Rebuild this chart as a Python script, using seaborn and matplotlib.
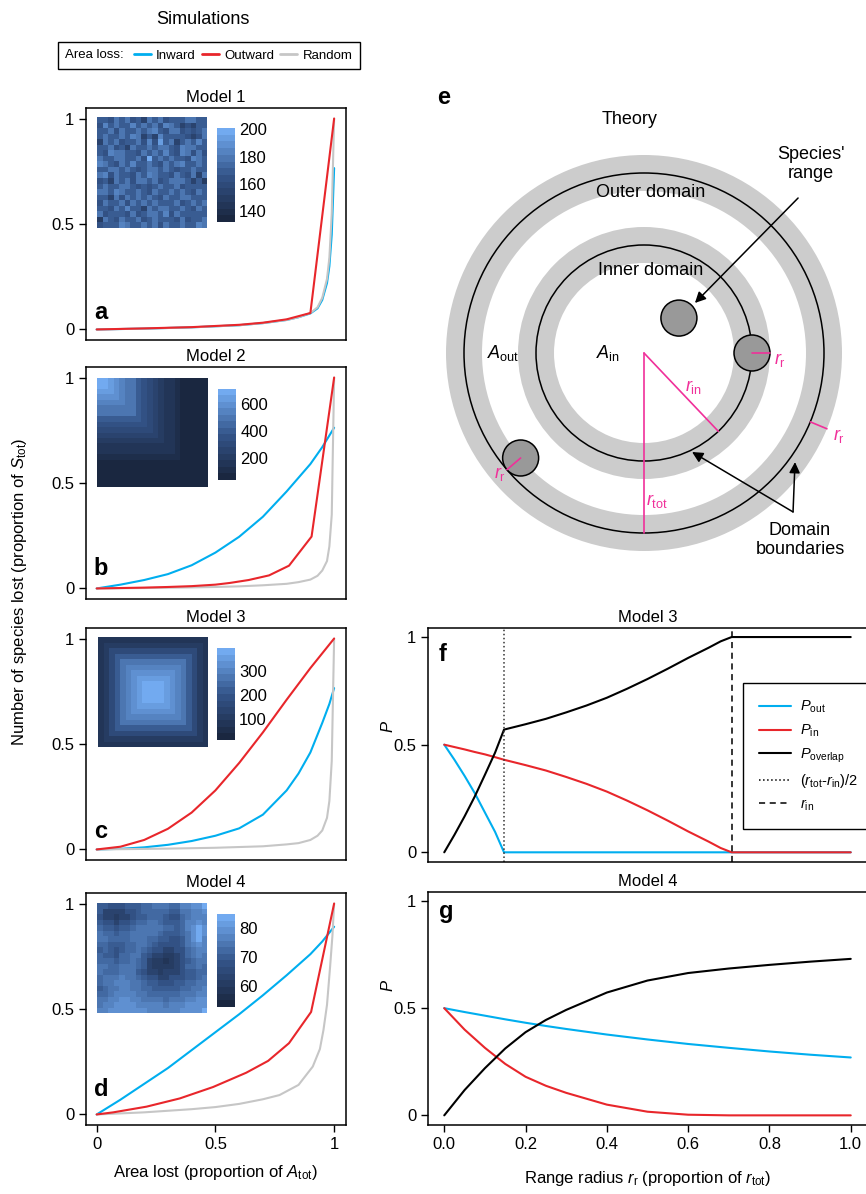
import numpy as np
import matplotlib
matplotlib.use("Agg")
import matplotlib.pyplot as plt
import seaborn as sns
from matplotlib.lines import Line2D
from matplotlib.patches import Circle, Wedge, FancyArrowPatch
from matplotlib.colors import LinearSegmentedColormap
from matplotlib.offsetbox import HPacker

# ---------------- data ----------------
loss_labels = ["Inward", "Outward", "Random"]

# Panel a (Model 1)
a_x = [0, 0.2, 0.4, 0.6, 0.7, 0.8, 0.85, 0.9, 0.93, 0.95, 0.97, 0.98, 0.99, 1.0]
a_gray = [0, 0.004, 0.01, 0.02, 0.03, 0.045, 0.058, 0.078, 0.105, 0.15, 0.24, 0.34, 0.55, 1.0]
a_blue = [0, 0.004, 0.01, 0.02, 0.03, 0.045, 0.058, 0.076, 0.10, 0.14, 0.22, 0.30, 0.45, 0.765]
a_red_x = [0, 0.2, 0.4, 0.6, 0.7, 0.8, 0.9, 1.0]
a_red = [0, 0.005, 0.011, 0.022, 0.032, 0.048, 0.078, 1.0]

# Panel b (Model 2)
b_x = [0, 0.1, 0.2, 0.3, 0.4, 0.5, 0.6, 0.7, 0.8, 0.9, 0.95, 1.0]
b_blue = [0, 0.018, 0.04, 0.068, 0.11, 0.17, 0.245, 0.34, 0.46, 0.59, 0.67, 0.762]
b_gray_x = [0, 0.2, 0.4, 0.5, 0.6, 0.7, 0.8, 0.85, 0.9, 0.93, 0.95, 0.97, 0.98, 0.99, 1.0]
b_gray = [0, 0.002, 0.005, 0.007, 0.01, 0.015, 0.022, 0.03, 0.042, 0.06, 0.085, 0.13, 0.2, 0.35, 1.0]
b_red_x = [0, 0.1, 0.2, 0.3, 0.4, 0.5, 0.56, 0.64, 0.726, 0.81, 0.905, 1.0]
b_red = [0, 0.002, 0.004, 0.007, 0.011, 0.018, 0.026, 0.04, 0.062, 0.108, 0.246, 1.0]

# Panel c (Model 3)
c_red_x = [0, 0.1, 0.2, 0.3, 0.4, 0.5, 0.6, 0.7, 0.8, 0.9, 1.0]
c_red = [0, 0.013, 0.045, 0.098, 0.175, 0.28, 0.41, 0.555, 0.71, 0.86, 1.0]
c_blue_x = [0, 0.1, 0.2, 0.3, 0.4, 0.5, 0.6, 0.7, 0.8, 0.85, 0.9, 0.95, 0.98, 1.0]
c_blue = [0, 0.003, 0.01, 0.022, 0.04, 0.065, 0.1, 0.165, 0.28, 0.36, 0.46, 0.6, 0.69, 0.765]
c_gray_x = [0, 0.3, 0.5, 0.7, 0.8, 0.85, 0.9, 0.93, 0.95, 0.97, 0.98, 0.99, 1.0]
c_gray = [0, 0.004, 0.008, 0.015, 0.024, 0.03, 0.045, 0.065, 0.09, 0.15, 0.23, 0.42, 1.0]

# Panel d (Model 4)
d_blue_x = [0, 0.1, 0.2, 0.3, 0.4, 0.5, 0.6, 0.7, 0.8, 0.9, 0.95, 1.0]
d_blue = [0, 0.07, 0.145, 0.22, 0.305, 0.39, 0.475, 0.565, 0.66, 0.76, 0.82, 0.89]
d_red_x = [0, 0.07, 0.21, 0.35, 0.49, 0.63, 0.722, 0.81, 0.903, 1.0]
d_red = [0, 0.01, 0.037, 0.076, 0.13, 0.198, 0.254, 0.338, 0.486, 1.0]
d_gray_x = [0, 0.2, 0.4, 0.5, 0.6, 0.7, 0.77, 0.85, 0.91, 0.94, 0.955, 0.97, 0.983, 0.993, 1.0]
d_gray = [0, 0.01, 0.025, 0.035, 0.05, 0.072, 0.092, 0.14, 0.227, 0.31, 0.40, 0.52, 0.70, 0.85, 1.0]

# Panel f (Model 3 theory)
f_x = [0, 0.025, 0.05, 0.075, 0.1, 0.125, 0.147, 0.2, 0.25, 0.3, 0.35, 0.4, 0.45,
       0.5, 0.55, 0.6, 0.65, 0.68, 0.707, 0.8, 0.9, 1.0]
f_out = [0.5, 0.43, 0.355, 0.275, 0.185, 0.095, 0, 0, 0, 0, 0, 0, 0,
         0, 0, 0, 0, 0, 0, 0, 0, 0]
f_in = [0.5, 0.489, 0.478, 0.466, 0.455, 0.442, 0.43, 0.405, 0.38, 0.35, 0.318, 0.282, 0.24,
        0.195, 0.147, 0.097, 0.05, 0.02, 0, 0, 0, 0]
f_overlap = [0, 0.081, 0.167, 0.259, 0.36, 0.463, 0.57, 0.595, 0.62, 0.65, 0.682, 0.718, 0.76,
             0.805, 0.853, 0.903, 0.95, 0.98, 1.0, 1.0, 1.0, 1.0]
f_vlines = [0.1465, 0.707]

# Panel g (Model 4 theory)
g_x = [0, 0.05, 0.1, 0.15, 0.2, 0.25, 0.3, 0.4, 0.5, 0.6, 0.7, 0.8, 0.9, 1.0]
g_out = [0.5, 0.482, 0.465, 0.448, 0.432, 0.417, 0.403, 0.377, 0.354, 0.333, 0.315, 0.298, 0.283, 0.27]
g_in = [0.5, 0.40, 0.315, 0.24, 0.18, 0.138, 0.105, 0.05, 0.017, 0.003, 0.0, 0.0, 0.0, 0.0]
g_overlap = [0, 0.118, 0.22, 0.312, 0.388, 0.445, 0.492, 0.573, 0.629, 0.664, 0.685, 0.702, 0.717, 0.73]

# Inset landscapes
m1_rows = ["55465645365645556655", "47565575656476534355", "55646556567546645456",
           "56556576353755554346", "36564556474856356575", "55645365565665476655",
           "54766554656575476464", "65566556495656554765", "76546575565465675565",
           "55665654566565455655", "67465546576554654636", "45365646656456665352",
           "56556654545655645555", "66576556546556565465", "55364656565465566555",
           "46556465656555645656", "55465755365665565465", "64555464566574655555",
           "26546556456555464556", "45557655656465565576"]
m4_rows = ["44333444556665577889", "42222334555554466778", "32212234455543356777",
           "43323345566544457787", "54434456666655457898", "65545566666544456898",
           "66555566655443346897", "55444556654333346787", "45434556543322335677",
           "54435566432211235676", "55545565421101234566", "66556665421111235565",
           "65556664322122234455", "56667665433223334456", "56677766544333445566",
           "45667766554444455667", "55677776655555566677", "66778877666656667788",
           "67788887777767778888", "77888888877777788889"]
m2_ring = [700, 670, 635, 600, 560, 515, 470, 420, 370, 320, 270, 220, 175, 135, 100, 75, 60, 50, 45, 40]
m3_ring = [390, 380, 360, 335, 300, 260, 215, 165, 115, 70]

m1_levels = (135, 7.2)
m4_levels = (59, 2.6)
cbar_ranges = [(132, 201), (32, 712), (12, 397), (53, 84.6)]
cbar_ticks = [[140, 160, 180, 200], [200, 400, 600], [100, 200, 300], [60, 70, 80]]

# ---------------- style ----------------
sns.set_style("ticks")
plt.rcParams["font.family"] = ["Liberation Sans", "DejaVu Sans"]
plt.rcParams["mathtext.fontset"] = "custom"
plt.rcParams["mathtext.rm"] = "Liberation Sans"
plt.rcParams["mathtext.it"] = "Liberation Sans:italic"
plt.rcParams["mathtext.bf"] = "Liberation Sans:bold"
for k in ("text.color", "axes.labelcolor", "xtick.color", "ytick.color", "axes.edgecolor"):
    plt.rcParams[k] = "black"

C_BLUE = "#00AEEF"
C_RED = "#E8262B"
C_GRAY = "#C6C6C6"
C_PINK = "#F0309A"
LW = 1.5

W, H = 866, 1194
fig = plt.figure(figsize=(W / 100, H / 100), dpi=100)


def px_axes(x0, y0, x1, y1):
    return fig.add_axes([x0 / W, 1 - y1 / H, (x1 - x0) / W, (y1 - y0) / H])


def style_box(ax):
    for s in ax.spines.values():
        s.set_visible(True)
        s.set_linewidth(1.1)
        s.set_color("black")
    ax.tick_params(direction="out", length=5, width=1, labelsize=12, color="black",
                   labelcolor="black")


cmap = LinearSegmentedColormap.from_list("land", ["#1a2740", "#34558a", "#72aaf0"], N=14)

# ---------------- left panels ----------------
left_boxes = [(86, 108, 346, 340), (86, 367, 346, 599), (86, 628, 346, 860), (86, 893, 346, 1125)]
inset_boxes = [(97, 117, 207, 228), (97, 378, 208, 487), (98, 637, 208, 747), (97, 903, 207, 1013)]
cbar_boxes = [(217, 128, 235, 222), (218, 389, 236, 480), (217, 648, 235, 740), (217, 914, 235, 1007)]
letter_y = [0.09, 0.105, 0.095, 0.125]
series = [
    [(a_x, a_blue, C_BLUE), (a_x, a_gray, C_GRAY), (a_red_x, a_red, C_RED)],
    [(b_x, b_blue, C_BLUE), (b_gray_x, b_gray, C_GRAY), (b_red_x, b_red, C_RED)],
    [(c_blue_x, c_blue, C_BLUE), (c_gray_x, c_gray, C_GRAY), (c_red_x, c_red, C_RED)],
    [(d_blue_x, d_blue, C_BLUE), (d_gray_x, d_gray, C_GRAY), (d_red_x, d_red, C_RED)],
]

g1 = np.array([[m1_levels[0] + int(ch) * m1_levels[1] for ch in r] for r in m1_rows])
g4 = np.array([[m4_levels[0] + int(ch) * m4_levels[1] for ch in r] for r in m4_rows])
I, J = np.indices((20, 20))
g2 = np.array(m2_ring)[np.maximum(I, J)]
k3 = (np.maximum(np.abs(I - 9.5), np.abs(J - 9.5)) - 0.5).astype(int)
g3 = np.array(m3_ring)[k3]
grids = [g1, g2, g3, g4]

for i in range(4):
    ax = px_axes(*left_boxes[i])
    for xs, ys, col in series[i]:
        sns.lineplot(x=xs, y=ys, ax=ax, color=col, lw=LW, sort=False, estimator=None)
    ax.set_xlim(-0.045, 1.05)
    ax.set_ylim(-0.05, 1.05)
    style_box(ax)
    ax.set_yticks([0, 0.5, 1])
    ax.set_yticklabels(["0", "0.5", "1"])
    if i < 3:
        ax.set_xticks([])
    else:
        ax.set_xticks([0, 0.5, 1])
        ax.set_xticklabels(["0", "0.5", "1"])
        ax.set_xlabel(r"Area lost (proportion of $A_{\mathrm{tot}}$)", fontsize=12)
        ax.xaxis.set_label_coords(0.496, -0.165)
    ax.set_title(f"Model {i + 1}", fontsize=12, pad=4)
    ax.text(0.03, letter_y[i], "abcd"[i], transform=ax.transAxes, fontsize=17,
            fontweight="bold", ha="left", va="baseline")

    axi = px_axes(*inset_boxes[i])
    cax = px_axes(*cbar_boxes[i])
    vmin, vmax = cbar_ranges[i]
    sns.heatmap(grids[i], ax=axi, cbar_ax=cax, cmap=cmap, vmin=vmin, vmax=vmax,
                xticklabels=False, yticklabels=False)
    axi.set_xticks([])
    axi.set_yticks([])
    cb = axi.collections[0].colorbar
    cb.outline.set_visible(False)
    cb.set_ticks(cbar_ticks[i])
    cax.tick_params(axis="y", direction="in", color="white", length=3, width=1,
                    left=True, right=True, labelleft=False, labelright=True,
                    labelsize=12, pad=3, labelcolor="black")

fig.text(20 / W, 1 - 592 / H, r"Number of species lost (proportion of $S_{\mathrm{tot}}$)",
         rotation=90, ha="center", va="center", fontsize=12)
fig.text(203 / W, 1 - 19 / H, "Simulations", ha="center", va="center", fontsize=13)

# top legend
handles = [Line2D([], [], color=c, lw=2) for c in (C_BLUE, C_RED, C_GRAY)]
leg = fig.legend(handles, loss_labels, loc="center", bbox_to_anchor=(209 / W, 1 - 55.5 / H),
                 ncol=3, title="Area loss:", frameon=True, fancybox=False, edgecolor="black",
                 fontsize=9.5, title_fontsize=9.5, handlelength=1.3, handletextpad=0.4,
                 columnspacing=0.45, borderpad=0.55, framealpha=1)
leg.get_frame().set_linewidth(1)
vbox = leg._legend_box
kids = vbox.get_children()
vbox._children = [HPacker(children=[kids[0], kids[1]], align="center", pad=0, sep=7)]

# ---------------- right panels ----------------
for j, (box, xs, pout, pin, pov, title, letter, ly, py) in enumerate([
        ((428, 628, 867, 862), f_x, f_out, f_in, f_overlap, "Model 3", "f", 0.86, 0.58),
        ((428, 892, 867, 1125), g_x, g_out, g_in, g_overlap, "Model 4", "g", 0.888, 0.6)]):
    ax = px_axes(*box)
    sns.lineplot(x=xs, y=pout, ax=ax, color=C_BLUE, lw=LW, sort=False, estimator=None)
    sns.lineplot(x=xs, y=pin, ax=ax, color=C_RED, lw=LW, sort=False, estimator=None)
    sns.lineplot(x=xs, y=pov, ax=ax, color="black", lw=LW, sort=False, estimator=None)
    ax.set_xlim(-0.04, 1.04)
    ax.set_ylim(-0.045, 1.042)
    style_box(ax)
    ax.set_yticks([0, 0.5, 1])
    ax.set_yticklabels(["0", "0.5", "1"])
    ax.set_ylabel(r"$P$", fontsize=12)
    ax.yaxis.set_label_coords(-0.073, py)
    ax.set_title(title, fontsize=12, pad=4)
    ax.text(0.025, ly, letter, transform=ax.transAxes, fontsize=17, fontweight="bold",
            ha="left", va="baseline")
    if j == 0:
        ax.set_xticks([])
        ax.axvline(f_vlines[0], color="#333333", lw=1.1, ls=":")
        ax.axvline(f_vlines[1], color="black", lw=1.1, ls=(0, (4, 3)))
        lh = [Line2D([], [], color=C_BLUE, lw=LW), Line2D([], [], color=C_RED, lw=LW),
              Line2D([], [], color="black", lw=LW), Line2D([], [], color="black", lw=1.1, ls=":"),
              Line2D([], [], color="black", lw=1.1, ls=(0, (4, 3)))]
        ll = [r"$P_{\mathrm{out}}$", r"$P_{\mathrm{in}}$", r"$P_{\mathrm{overlap}}$",
              r"$(r_{\mathrm{tot}}$-$r_{\mathrm{in}})/2$", r"$r_{\mathrm{in}}$"]
        lg = ax.legend(lh, ll, loc="upper left", bbox_to_anchor=(0.7175, 0.765), fontsize=10.5,
                       frameon=True, fancybox=False, edgecolor="black", framealpha=1,
                       handlelength=2.2, handletextpad=0.6, labelspacing=0.5, borderpad=1.1,
                       borderaxespad=0)
        lg.get_frame().set_linewidth(1)
    else:
        ax.set_xticks([0, 0.2, 0.4, 0.6, 0.8, 1.0])
        ax.set_xticklabels(["0.0", "0.2", "0.4", "0.6", "0.8", "1.0"])
        ax.set_xlabel(r"Range radius $r_{\mathrm{r}}$ (proportion of $r_{\mathrm{tot}}$)", fontsize=12)
        ax.xaxis.set_label_coords(0.5, -0.19)

# ---------------- panel e diagram ----------------
axe = px_axes(430, 80, 866, 580)
axe.set_xlim(-(644 - 430) / 180, (866 - 644) / 180)
axe.set_ylim(-(580 - 353) / 180, (353 - 80) / 180)
axe.axis("off")
GR = "#CCCCCC"
axe.add_patch(Wedge((0, 0), 1.1, 0, 360, width=0.2, facecolor=GR, edgecolor="none"))
axe.add_patch(Wedge((0, 0), 0.7, 0, 360, width=0.2, facecolor=GR, edgecolor="none"))
axe.add_patch(Circle((0, 0), 1.0, fill=False, edgecolor="black", lw=1.1))
axe.add_patch(Circle((0, 0), 0.6, fill=False, edgecolor="black", lw=1.1))
ang_c = np.deg2rad(220.4)
ranges = [(0.194, 0.194), (0.6, 0.0), (0.9 * np.cos(ang_c), 0.9 * np.sin(ang_c))]
for (cx, cy) in ranges:
    axe.add_patch(Circle((cx, cy), 0.1, facecolor="#999999", edgecolor="black", lw=1.1, zorder=3))
axe.plot([0, 0], [0, -1.0], color=C_PINK, lw=1.2, zorder=4)
a_in = np.deg2rad(-46.5)
axe.plot([0, 0.6 * np.cos(a_in)], [0, 0.6 * np.sin(a_in)], color=C_PINK, lw=1.2, zorder=4)
axe.plot([0.6, 0.7], [0, 0], color=C_PINK, lw=1.2, zorder=4)
axe.plot([ranges[2][0], np.cos(ang_c)], [ranges[2][1], np.sin(ang_c)], color=C_PINK, lw=1.2, zorder=4)
a_o = np.deg2rad(-22.5)
axe.plot([1.0 * np.cos(a_o), 1.1 * np.cos(a_o)], [1.0 * np.sin(a_o), 1.1 * np.sin(a_o)],
         color=C_PINK, lw=1.2, zorder=4)

tk = dict(fontsize=13, ha="center", va="center")
axe.text(-1.111, 1.422, "e", fontsize=17, fontweight="bold", ha="center", va="center")
axe.text(-0.078, 1.30, "Theory", **tk)
axe.text(0.039, 0.889, "Outer domain", **tk)
axe.text(0.039, 0.456, "Inner domain", **tk)
axe.text(0.928, 1.05, "Species'\nrange", linespacing=1.2, **tk)
axe.text(0.867, -1.039, "Domain\nboundaries", linespacing=1.2, **tk)
axe.text(-0.78, 0.0, r"$A_{\mathrm{out}}$", **tk)
axe.text(-0.2, 0.0, r"$A_{\mathrm{in}}$", **tk)
axe.text(0.755, -0.04, r"$r_{\mathrm{r}}$", color=C_PINK, **tk)
axe.text(0.275, -0.19, r"$r_{\mathrm{in}}$", color=C_PINK, **tk)
axe.text(0.075, -0.82, r"$r_{\mathrm{tot}}$", color=C_PINK, **tk)
axe.text(1.085, -0.46, r"$r_{\mathrm{r}}$", color=C_PINK, **tk)
axe.text(-0.8, -0.67, r"$r_{\mathrm{r}}$", color=C_PINK, **tk)
arr = dict(arrowstyle="-|>", mutation_scale=16, color="black", lw=1.1, shrinkA=0, shrinkB=0)
axe.add_patch(FancyArrowPatch((0.856, 0.861), (0.283, 0.278), zorder=5, **arr))
axe.add_patch(FancyArrowPatch((0.828, -0.883), (0.267, -0.55), zorder=5, **arr))
axe.add_patch(FancyArrowPatch((0.828, -0.883), (0.839, -0.606), zorder=5, **arr))

fig.savefig("out.png", dpi=100)
